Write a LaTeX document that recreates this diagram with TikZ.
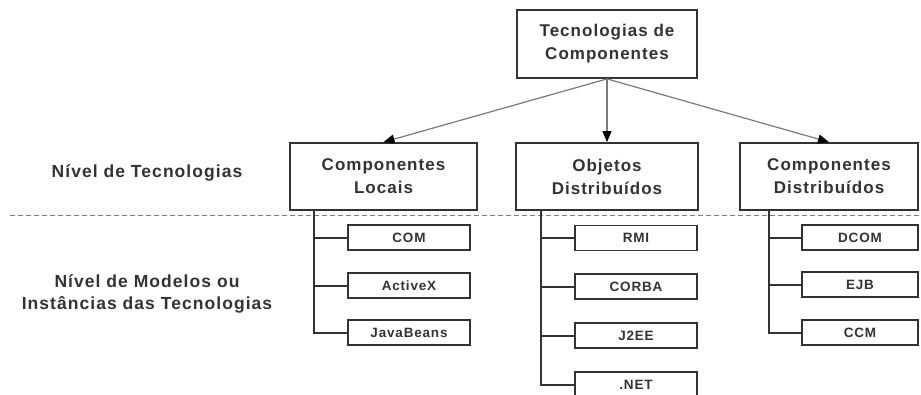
\documentclass[tikz,border=0pt]{standalone}
\usepackage{fontspec}
\setmainfont{Liberation Sans}
\newfontfamily\widesans[LetterSpace=6]{Liberation Sans}
\usepackage{tikz}
\usetikzlibrary{arrows.meta,positioning,calc}
\definecolor{inkgray}{HTML}{333333}
\definecolor{linegray}{HTML}{7A7A7A}
\tikzset{
  techbox/.style={rectangle,draw=inkgray,line width=1.8pt,fill=white,
                  font=\widesans\fontsize{17}{23}\selectfont\bfseries,text=inkgray,
                  align=center,inner sep=0pt},
  modelbox/.style={rectangle,draw=inkgray,line width=1.8pt,fill=white,
                   minimum height=25pt,inner sep=0pt,
                   font=\widesans\fontsize{13.5}{15}\selectfont\bfseries,text=inkgray},
  levellabel/.style={font=\widesans\fontsize{17.5}{22}\selectfont\bfseries,
                     text=inkgray,align=center},
  spread/.style={-{Triangle[length=11pt,width=9pt,color=black]},line width=1.2pt,linegray},
  branch/.style={line width=2pt,inkgray},
}
\begin{document}
\begin{tikzpicture}[x=1pt,y=-1pt]
  \clip (0,0) rectangle (921,394);
  % levels
  \node[levellabel] (lvtec) at (147,173) {Nível de Tecnologias};
  \node[levellabel] (lvmod) at (147,294)
    {Nível de Modelos ou\\Instâncias das Tecnologias};
  \draw[dashed,linegray,line width=1pt,dash pattern=on 5pt off 3pt]
    (10,215) -- (921,215);

  % technologies
  \node[techbox,minimum width=180pt,minimum height=68pt] (root) at (607,44)
    {Tecnologias de\\Componentes};
  \node[techbox,minimum width=187pt,minimum height=67pt] (local) at (383.5,176.5)
    {Componentes\\Locais};
  \node[techbox,minimum width=182pt,minimum height=67pt] (objdist) at (607,176.5)
    {Objetos\\Distribuídos};
  \node[techbox,minimum width=178pt,minimum height=67pt] (compdist) at (829,176.5)
    {Componentes\\Distribuídos};

  \draw[spread] (root.south) -- (local.north);
  \draw[spread] (root.south) -- (objdist.north);
  \draw[spread] (root.south) -- (compdist.north);

  % models
  \node[modelbox,minimum width=122pt] (com) at (409,237.5) {COM};
  \node[modelbox,minimum width=122pt] (activex) at (409,285.5) {ActiveX};
  \node[modelbox,minimum width=122pt] (javabeans) at (409,332.5) {JavaBeans};

  \node[modelbox,minimum width=122pt] (rmi) at (636,238) {RMI};
  \node[modelbox,minimum width=122pt] (corba) at (636,286.5) {CORBA};
  \node[modelbox,minimum width=122pt] (jee) at (636,335.5) {J2EE};
  \node[modelbox,minimum width=122pt] (dotnet) at (636,384.5) {.NET};

  \node[modelbox,minimum width=116pt] (dcom) at (860,237.5) {DCOM};
  \node[modelbox,minimum width=116pt] (ejb) at (860,284.5) {EJB};
  \node[modelbox,minimum width=116pt] (ccm) at (860,332.5) {CCM};

  % branches
  \coordinate (tl) at ($(local.south west)+(25,0)$);
  \coordinate (tm) at ($(objdist.south west)+(26,0)$);
  \coordinate (tr) at ($(compdist.south west)+(30,0)$);
  \draw[branch] (tl) |- (javabeans.west);
  \draw[branch] (tl |- com.west) -- (com.west);
  \draw[branch] (tl |- activex.west) -- (activex.west);
  \draw[branch] (tm) |- (dotnet.west);
  \draw[branch] (tm |- rmi.west) -- (rmi.west);
  \draw[branch] (tm |- corba.west) -- (corba.west);
  \draw[branch] (tm |- jee.west) -- (jee.west);
  \draw[branch] (tr) |- (ccm.west);
  \draw[branch] (tr |- dcom.west) -- (dcom.west);
  \draw[branch] (tr |- ejb.west) -- (ejb.west);
\end{tikzpicture}
\end{document}
